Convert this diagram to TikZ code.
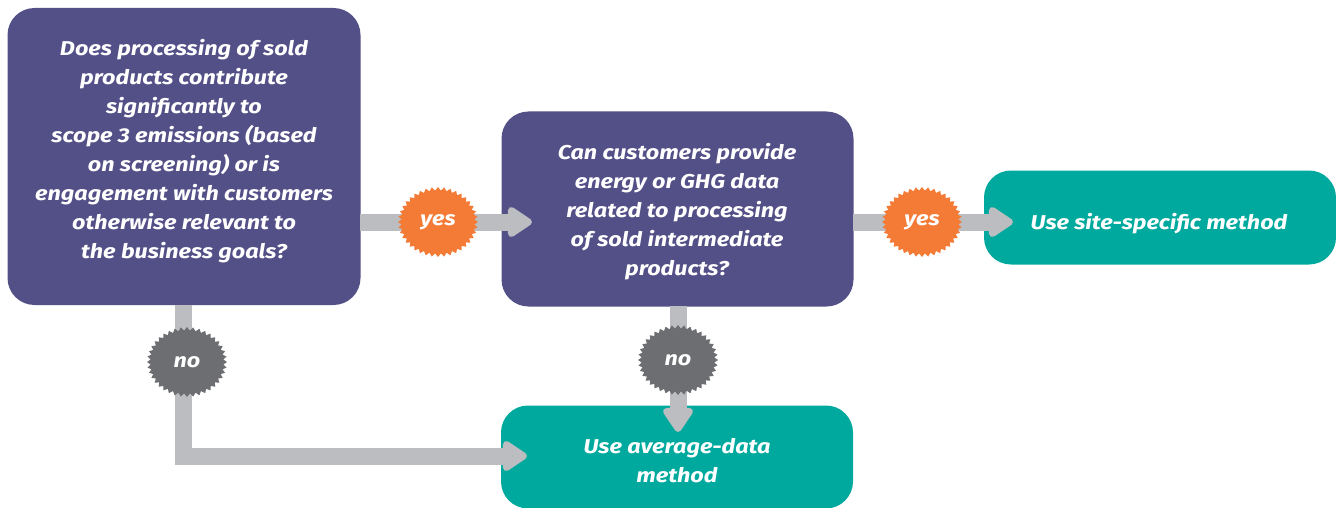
\documentclass[tikz,border=0pt]{standalone}
\usepackage{fontspec}
\setmainfont{Fira Sans}
\newfontfamily\qfont[FakeStretch=1.17]{Fira Sans}
\usetikzlibrary{arrows.meta,shapes.symbols}
\definecolor{qpurple}{HTML}{534F87}
\definecolor{qteal}{HTML}{00A99D}
\definecolor{qorange}{HTML}{F47B36}
\definecolor{qgraybadge}{HTML}{6D6E71}
\definecolor{qarrow}{HTML}{BCBDC0}
\tikzset{
  qbox/.style={fill=qpurple, rounded corners=27pt, inner sep=0pt},
  abox/.style={fill=qteal, rounded corners=27pt, inner sep=0pt},
  qtext/.style={text=white, align=center, font=\qfont\fontsize{20}{29}\selectfont\bfseries\itshape, inner sep=0pt},
  flow/.style={draw=qarrow, line width=17pt, -{Triangle[length=27pt,width=34pt,round]}},
  badge/.style={starburst, starburst points=40, starburst point height=3.5pt, random starburst=0,
    minimum width=80pt, minimum height=70pt, inner sep=0pt, text=white,
    font=\qfont\fontsize{20}{24}\selectfont\bfseries\itshape},
  yesbadge/.style={badge, fill=qorange},
  nobadge/.style={badge, fill=qgraybadge}
}
\begin{document}
\begin{tikzpicture}[x=1pt,y=-1pt]
\useasboundingbox (0,0) rectangle (1336,508);
% boxes
\node[qbox, minimum width=353pt, minimum height=297pt] (A) at (184,156.5) {};
\node[qbox, minimum width=352pt, minimum height=195pt] (B) at (677.5,209) {};
\node[abox, minimum width=352pt, minimum height=94pt] (C) at (1160,217.5) {};
\node[abox, minimum width=352pt, minimum height=103pt] (D) at (677,457) {};
% arrow coordinates
\coordinate (abS) at (360,222);
\coordinate (abE) at (532,222);
\coordinate (bcS) at (853,222);
\coordinate (bcE) at (1013,222);
\coordinate (adS) at (183.5,305);
\coordinate (adC) at (183.5,456);
\coordinate (adE) at (527,456);
\coordinate (bdS) at (678,306);
\coordinate (bdE) at (678,432);
% arrows
\draw[flow] (abS) -- (abE);
\draw[flow] (bcS) -- (bcE);
\draw[flow] (adS) -- (adC) -- (adE);
\draw[flow] (bdS) -- (bdE);
% texts
\node[qtext] (At) at (184,151) {Does processing of sold\\products contribute\\significantly to\\scope 3 emissions (based\\on screening) or is\\engagement with customers\\otherwise relevant to\\the business goals?};
\node[qtext] (Bt) at (677,212) {Can customers provide\\energy or GHG data\\related to processing\\of sold intermediate\\products?};
\node[qtext] (Ct) at (1159,224) {Use site-specific method};
\node[qtext] (Dt) at (677,461) {Use average-data\\method};
% badges
\node[yesbadge] (Y1) at (438,222) {yes};
\node[yesbadge] (Y2) at (922,222) {yes};
\node[nobadge] (N1) at (187,362) {no};
\node[nobadge] (N2) at (678,360) {no};
\end{tikzpicture}
\end{document}
